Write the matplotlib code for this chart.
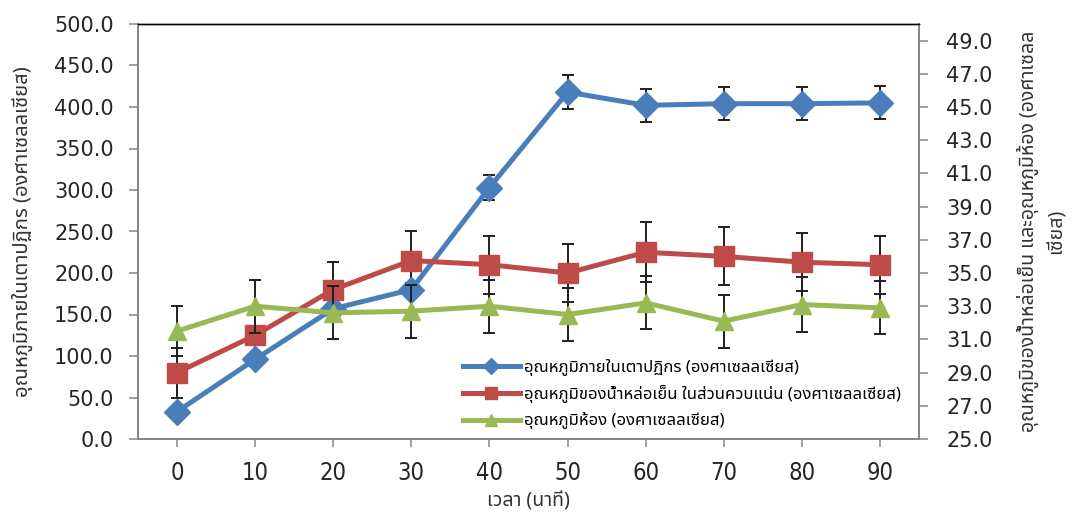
import matplotlib
matplotlib.use('Agg')
import matplotlib.pyplot as plt
from matplotlib import font_manager, ft2font
from matplotlib.ticker import FormatStrFormatter, MultipleLocator
import numpy as np

# ค่าที่อ่านจากกราฟ
time_min = ['0', '10', '20', '30', '40', '50', '60', '70', '80', '90']
furnace_temp = [33, 96, 157, 180, 303, 418, 402, 404, 404, 405]
furnace_err = [5, 5, 5, 8, 15, 21, 20, 20, 20, 20]
coolant_temp = [80, 125, 180, 215, 210, 200, 225, 220, 213, 210]
coolant_err = [30, 31, 33, 36, 35, 35, 36, 35, 35, 35]
room_temp = [31.5, 33.0, 32.6, 32.7, 33.0, 32.5, 33.2, 32.1, 33.1, 32.9]
room_err = [1.5, 1.6, 1.6, 1.6, 1.6, 1.6, 1.6, 1.6, 1.65, 1.6]

label_furnace = 'อุณหภูมิภายในเตาปฏิกร (องศาเซลลเซียส)'
label_coolant = 'อุณหภูมิของน้ำหล่อเย็น ในส่วนควบแน่น (องศาเซลลเซียส)'
label_room = 'อุณหภูมิห้อง (องศาเซลลเซียส)'
ylabel_left = 'อุณหภูมิภายในเตาปฏิกร (องศาเซลลเซียส)'
ylabel_right = 'อุณหภูมิของน้ำหล่อเย็น และอุณหภูมิห้อง (องศาเซลล\nเซียส)'
xlabel = 'เวลา (นาที)'


# find a font that has Thai glyphs
def has_thai(path):
    try:
        return ord('ก') in ft2font.FT2Font(path).get_charmap()
    except Exception:
        return False

thai_names = sorted({f.name for f in font_manager.fontManager.ttflist if has_thai(f.fname)})
preferred = ['Tahoma', 'Leelawadee UI', 'Noto Sans Thai', 'Noto Sans Thai UI', 'Loma', 'Garuda',
             'Sarabun', 'Umpush', 'Kinnari', 'Norasi']
thai_font = next((n for n in preferred if n in thai_names), thai_names[0] if thai_names else 'DejaVu Sans')
thai_family = [thai_font, 'DejaVu Sans']

all_names = {f.name for f in font_manager.fontManager.ttflist}
if 'Liberation Sans Narrow' in all_names:
    xtick_font = dict(family='Liberation Sans Narrow')
else:
    xtick_font = dict(family='DejaVu Sans', stretch='condensed')

blue = '#4A7EBB'
red = '#BE4B48'
green = '#98B954'
err_col = '#1f1f1f'
axis_col = '#868686'
text_col = '#262626'

x = np.arange(len(time_min))

fig = plt.figure(figsize=(10.72, 5.13), dpi=100)
ax = fig.add_axes([138 / 1072, 1 - 439 / 513, (919 - 138) / 1072, (439 - 24) / 513])

ax.errorbar(x, furnace_temp, yerr=furnace_err, fmt='none', ecolor=err_col, elinewidth=1.4,
            capsize=4.3, capthick=1.4, zorder=2)
l1, = ax.plot(x, furnace_temp, color=blue, lw=3.6, marker='D', ms=13.5, zorder=3, label=label_furnace)
ax.errorbar(x, coolant_temp, yerr=coolant_err, fmt='none', ecolor=err_col, elinewidth=1.4,
            capsize=4.3, capthick=1.4, zorder=2)
l2, = ax.plot(x, coolant_temp, color=red, lw=3.6, marker='s', ms=15, zorder=3, label=label_coolant)

ax.set_xlim(-0.5, len(time_min) - 0.5)
ax.set_ylim(0, 500)
ax.yaxis.set_major_locator(MultipleLocator(50))
ax.yaxis.set_major_formatter(FormatStrFormatter('%.1f'))
ax.set_xticks(x)
ax.set_xticklabels(time_min, fontsize=17, color=text_col, **xtick_font)
ax.tick_params(axis='y', direction='out', length=6.5, width=1.1, color=axis_col,
               labelsize=15, labelcolor=text_col, pad=11)
ax.tick_params(axis='x', direction='out', length=6, width=1.1, color=axis_col, pad=10)

ax2 = ax.twinx()
ax2.errorbar(x, room_temp, yerr=room_err, fmt='none', ecolor=err_col, elinewidth=1.4,
             capsize=4.3, capthick=1.4, zorder=2)
l3, = ax2.plot(x, room_temp, color=green, lw=3.6, marker='^', ms=13.5, zorder=3, label=label_room)
ax2.set_ylim(25, 50)
ax2.set_yticks(np.arange(25, 50, 2))
ax2.yaxis.set_major_formatter(FormatStrFormatter('%.1f'))
ax2.tick_params(axis='y', direction='out', length=6.5, width=1.1, color=axis_col,
                labelsize=15, labelcolor=text_col, pad=13)

for a in (ax, ax2):
    for side in ('left', 'right', 'bottom'):
        a.spines[side].set_color(axis_col)
        a.spines[side].set_linewidth(1.3)
    a.spines['top'].set_color('#000000')
    a.spines['top'].set_linewidth(1.0)

ax.set_ylabel(ylabel_left, family=thai_family, fontsize=14.5, color='#333333', va='center')
ax.yaxis.set_label_coords((22 - 138) / 781, 0.5)
ax2.set_ylabel(ylabel_right, family=thai_family, fontsize=14, color='#333333', va='center',
               rotation=90, multialignment='center', linespacing=1.5)
ax2.yaxis.set_label_coords((1042 - 138) / 781, 0.5)
ax.set_xlabel(xlabel, family=thai_family, fontsize=14, color='#333333', va='center')
ax.xaxis.set_label_coords(0.5, (439 - 501) / 415)

ax2.legend([l1, l2, l3], [label_furnace, label_coolant, label_room], loc='upper left',
           bbox_to_anchor=(463 / 1072, 1 - 359 / 513), bbox_transform=fig.transFigure,
           frameon=False, prop={'family': thai_family, 'size': 12}, handlelength=3.4,
           handletextpad=0.25, labelspacing=0.55, borderpad=0, borderaxespad=0, markerscale=0.6)

fig.savefig('out.png', dpi=100)
